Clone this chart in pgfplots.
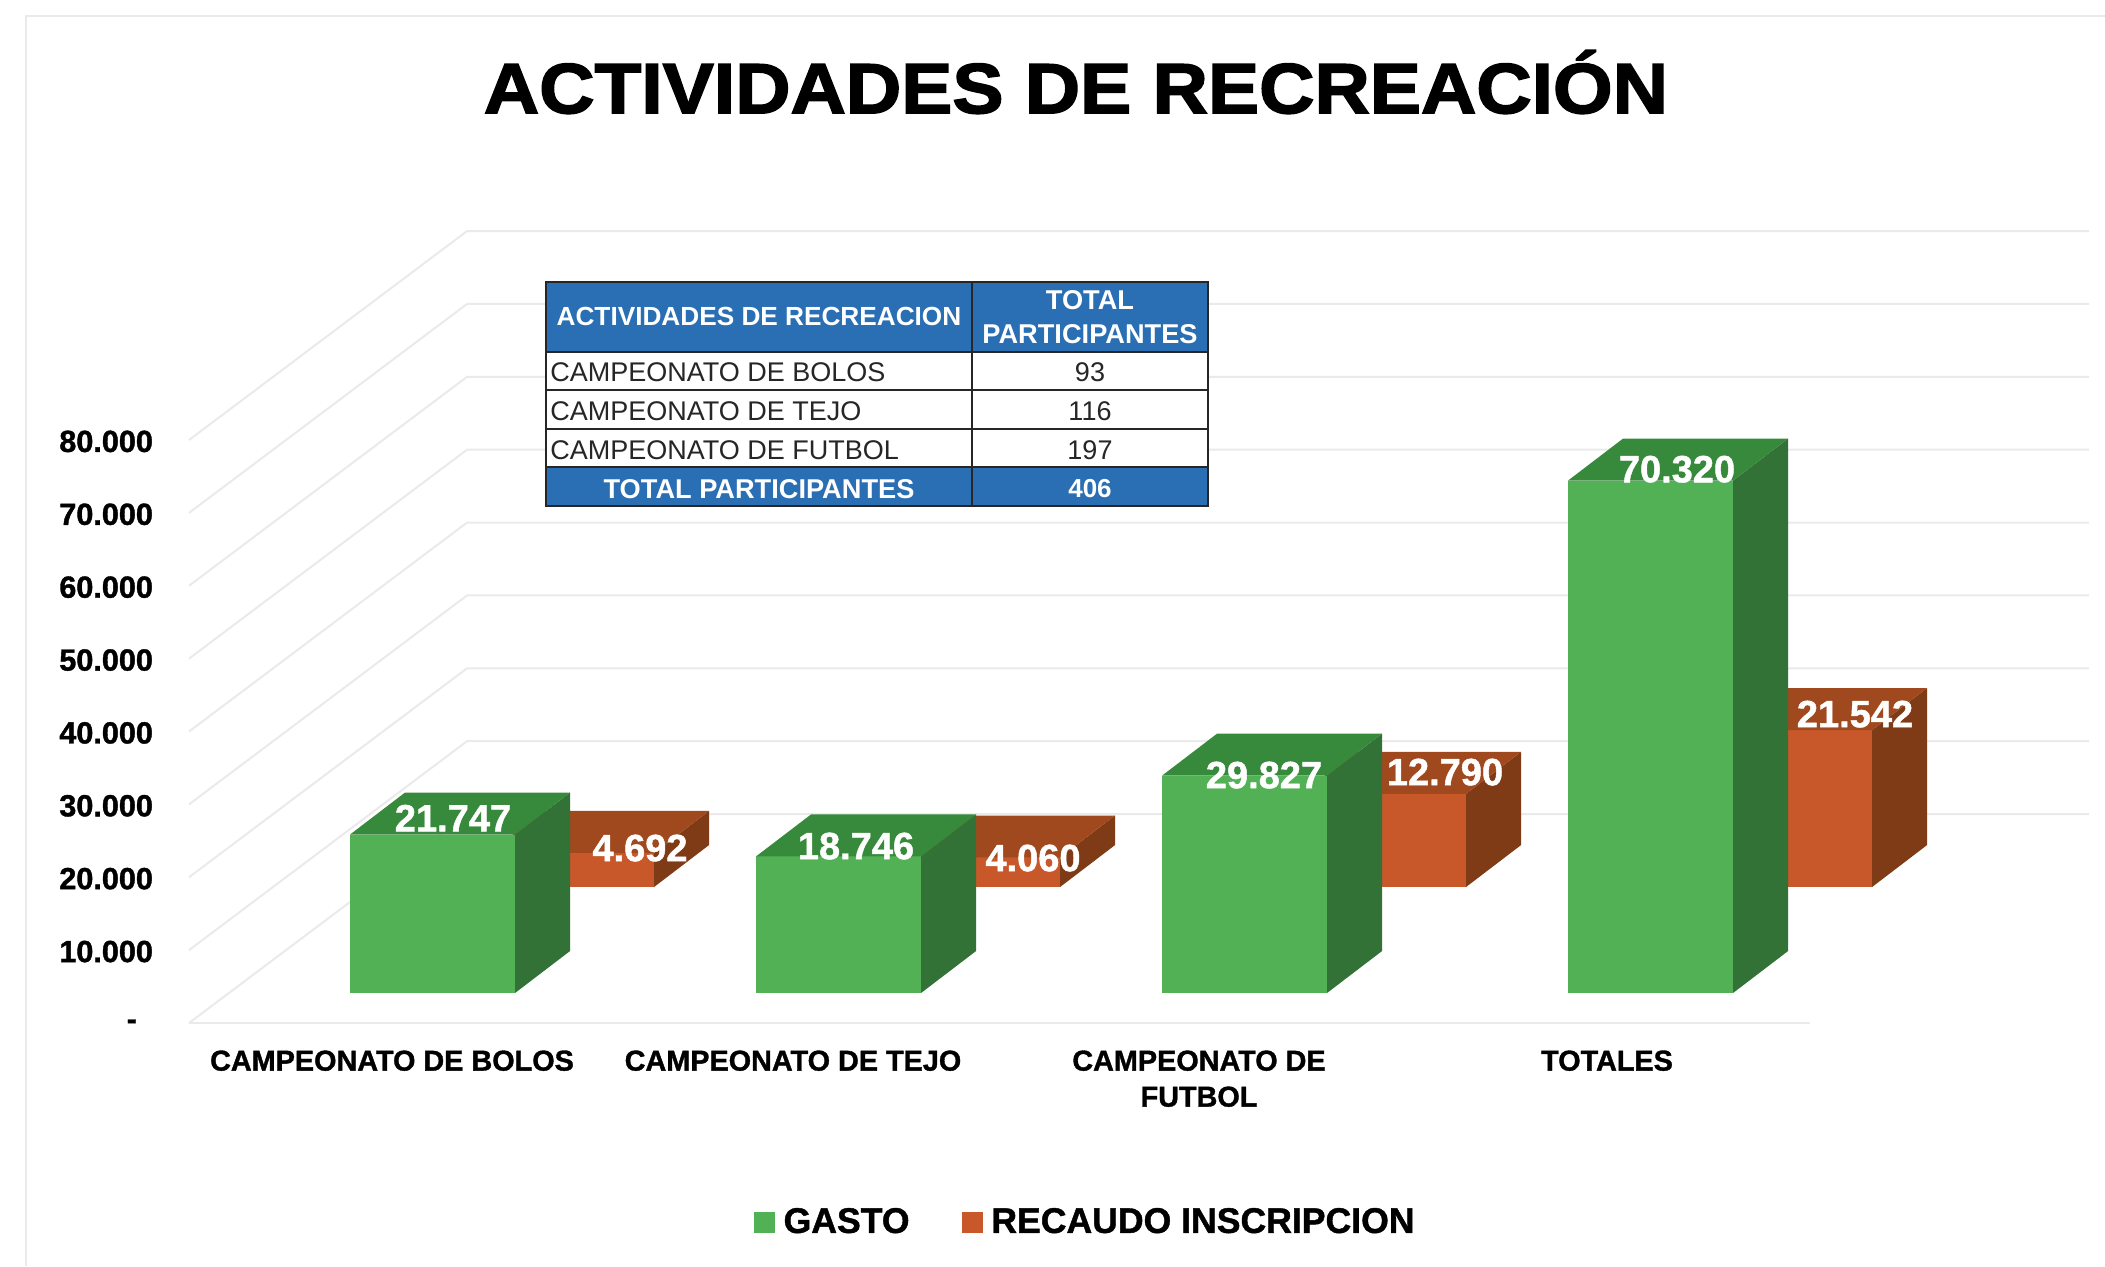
\documentclass[border=0pt]{standalone}
\usepackage{pgfplots}
\pgfplotsset{compat=1.18}
\usepackage{fontspec}
\setmainfont{Liberation Sans}
\newfontfamily\hb[FakeBold=2.2,FakeStretch=1.08]{Liberation Sans Bold}
\newfontfamily\hc[FakeBold=1.2]{Liberation Sans Bold}
\definecolor{gfront}{HTML}{52B155}
\definecolor{gside}{HTML}{327236}
\definecolor{gtop}{HTML}{378A3B}
\definecolor{ofront}{HTML}{C8582A}
\definecolor{oside}{HTML}{7F3B16}
\definecolor{otop}{HTML}{A0481E}
\definecolor{tblue}{HTML}{2A6EB3}
\definecolor{gridc}{HTML}{EAEAEA}
% one 3-D bar: colours, left edge (px), base lift, value
\newcommand{\cube}[6]{%
  \pgfmathsetmacro\xa{#4}\pgfmathsetmacro\xb{#4+165}\pgfmathsetmacro\xc{#4+220}%
  \pgfmathsetmacro\xd{#4+55}%
  \pgfmathsetmacro\ya{#5}\pgfmathsetmacro\yt{#5+#6}%
  \pgfmathsetmacro\yb{#5+5.76}\pgfmathsetmacro\yu{#5+#6+5.76}%
  \addplot[fill=#1,draw=none,forget plot] coordinates {(\xa,\ya)(\xb,\ya)(\xb,\yt)(\xa,\yt)} -- cycle;
  \addplot[fill=#2,draw=none,forget plot] coordinates {(\xb,\ya)(\xc,\yb)(\xc,\yu)(\xb,\yt)} -- cycle;
  \addplot[fill=#3,draw=none,forget plot] coordinates {(\xa,\yt)(\xb,\yt)(\xc,\yu)(\xd,\yu)} -- cycle;
}
\newcommand{\grid}[1]{%
  \pgfmathsetmacro\yy{#1+28.67}%
  \addplot[gridc,line width=1pt,forget plot] coordinates {(189,#1)(467,\yy)(2089,\yy)};
}
\newcommand{\lab}[3]{\node[text=white,font=\hc\fontsize{19}{19}\selectfont,inner sep=0pt] at (axis cs:#1,{(1023-#2)/7.29}) {#3};}
\begin{document}
\begin{tikzpicture}
\begin{scope}[x=0.5pt,y=-0.5pt]
\useasboundingbox (0,0) rectangle (2105,1266);
\draw[gridc,line width=1pt] (26,1266) -- (26,16) -- (2105,16);
\end{scope}
\begin{axis}[
  at={(94.5pt,-511.5pt)},anchor=origin,
  scale only axis,width=810.5pt,height=291.5pt,
  xmin=189,xmax=1810,ymin=0,ymax=80,clip=false,
  axis line style={draw=none},major tick length=0pt,
  ytick={0,10,20,30,40,50,60,70,80},
  yticklabels={-\hspace*{8pt},10.000,20.000,30.000,40.000,50.000,60.000,70.000,80.000},
  yticklabel style={font=\hc\fontsize{15.3}{15.3}\selectfont,anchor=east,yshift=-0.7pt},
  yticklabel shift=14.5pt,
  xtick={392,793,1199,1607},
  xticklabels={CAMPEONATO DE BOLOS,CAMPEONATO DE TEJO,{CAMPEONATO DE\\FUTBOL},TOTALES},
  xticklabel style={font=\hc\fontsize{14.4}{18}\selectfont,align=center,anchor=north},
  xticklabel shift=10.2pt,
  legend columns=2,
  legend style={at={(0.5535,-0.3413)},anchor=center,draw=none,fill=none,
    font=\hc\fontsize{17.8}{17.8}\selectfont,
    /tikz/every even column/.append style={column sep=24pt},
    /tikz/every odd column/.append style={column sep=2.5pt}},
  legend image code/.code={\fill[#1] (0pt,-5pt) rectangle (10pt,5pt);},
]
\grid{0}\grid{10}\grid{20}\grid{30}\grid{40}\grid{50}\grid{60}\grid{70}\grid{80}
\addplot[gridc,line width=1pt,forget plot] coordinates {(189,0)(1810,0)};
% RECAUDO INSCRIPCION (back row)
\cube{ofront}{oside}{otop}{489}{18.656}{4.692}
\cube{ofront}{oside}{otop}{895}{18.656}{4.060}
\cube{ofront}{oside}{otop}{1301}{18.656}{12.790}
\cube{ofront}{oside}{otop}{1707}{18.656}{21.542}
% GASTO (front row)
\cube{gfront}{gside}{gtop}{350}{4.115}{21.747}
\cube{gfront}{gside}{gtop}{756}{4.115}{18.746}
\cube{gfront}{gside}{gtop}{1162}{4.115}{29.827}
\cube{gfront}{gside}{gtop}{1568}{4.115}{70.320}
\addlegendimage{gfront}\addlegendentry{GASTO}
\addlegendimage{ofront}\addlegendentry{RECAUDO INSCRIPCION}
\lab{453}{818}{21.747}
\lab{640}{848}{4.692}
\lab{856}{846}{18.746}
\lab{1033}{858}{4.060}
\lab{1264}{775}{29.827}
\lab{1445}{772}{12.790}
\lab{1677}{469}{70.320}
\lab{1855}{714}{21.542}
\end{axis}
\begin{scope}[x=0.5pt,y=-0.5pt,every node/.style={inner sep=0pt}]
\node[font=\hb\fontsize{35.5}{35.5}\selectfont] at (1076,82) {ACTIVIDADES DE RECREACIÓN};
% table
\fill[white] (546,282) rectangle (1208,506);
\fill[tblue] (546,282) rectangle (1208,352);
\fill[tblue] (546,467) rectangle (1208,506);
\draw[black!85,line width=1pt] (546,282) rectangle (1208,506);
\draw[black!85,line width=1pt] (972,282) -- (972,506);
\foreach \y in {352,390,429,467} \draw[black!85,line width=1pt] (546,\y) -- (1208,\y);
\node[text=white,font=\bfseries\fontsize{13.1}{13.1}\selectfont] at (759,316) {ACTIVIDADES DE RECREACION};
\node[text=white,font=\bfseries\fontsize{13.6}{17}\selectfont,align=center] at (1090,317) {TOTAL\\PARTICIPANTES};
\foreach \y/\t/\n in {372/CAMPEONATO DE BOLOS/93,411/CAMPEONATO DE TEJO/116,450/CAMPEONATO DE FUTBOL/197}{
  \node[text=black!85,font=\fontsize{13.5}{13.5}\selectfont,anchor=west] at (550,\y) {\t};
  \node[text=black!85,font=\fontsize{13.5}{13.5}\selectfont] at (1090,\y) {\n};
}
\node[text=white,font=\bfseries\fontsize{13.6}{13.6}\selectfont] at (759,489) {TOTAL PARTICIPANTES};
\node[text=white,font=\bfseries\fontsize{13}{13}\selectfont] at (1090,489) {406};
\end{scope}
\end{tikzpicture}
\end{document}
